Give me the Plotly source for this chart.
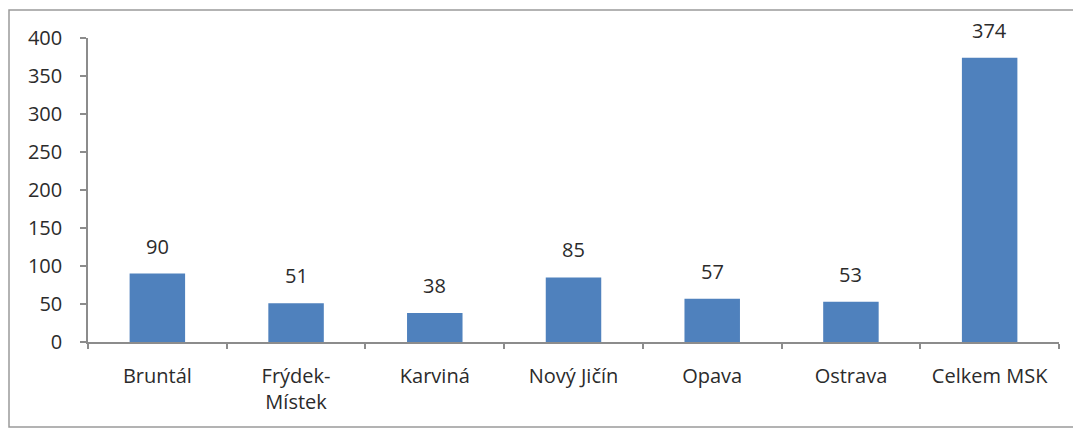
import plotly.graph_objects as go

# Okresy Moravskoslezského kraje a hodnoty
categories = ["Bruntál", "Frýdek-<br>Místek", "Karviná", "Nový Jičín", "Opava", "Ostrava", "Celkem MSK"]
values = [90, 51, 38, 85, 57, 53, 374]
y_ticks = [0, 50, 100, 150, 200, 250, 300, 350, 400]

BAR = "#4F81BD"
AXIS = "#8c8c8c"
TEXT = "#2b2b2b"
FONT = "Open Sans, sans-serif"
FS = 20

W, H = 1073, 429
ML, MR, MT, MB = 88, 14, 38, 87
PW, PH = W - ML - MR, H - MT - MB

fig = go.Figure(go.Bar(x=categories, y=values, marker=dict(color=BAR, line=dict(width=0))))

# value labels above the bars
for c, v in zip(categories, values):
    fig.add_annotation(x=c, y=v, text=str(v), showarrow=False, yanchor="bottom",
                       yshift=12, font=dict(family=FONT, size=FS, color=TEXT))

# outer chart frame
fig.add_shape(type="rect", xref="paper", yref="paper",
              x0=(9 - ML) / PW, x1=(W + 5 - ML) / PW,
              y0=-(MB - 2) / PH, y1=(H - 10 - MB) / PH,
              line=dict(color="#9a9a9a", width=1.5), layer="below")

fig.update_layout(
    width=W, height=H,
    margin=dict(l=ML, r=MR, t=MT, b=MB),
    paper_bgcolor="white", plot_bgcolor="white",
    bargap=0.6, showlegend=False,
    font=dict(family=FONT, size=FS, color=TEXT),
)
fig.update_xaxes(
    showline=True, linecolor=AXIS, linewidth=1.5,
    ticks="outside", tickson="boundaries", ticklen=5, tickcolor=AXIS, tickwidth=1.5,
    ticklabelstandoff=15, showgrid=False,
)
fig.update_yaxes(
    range=[0, 400], tickvals=y_ticks, showline=True, linecolor=AXIS, linewidth=1.5,
    ticks="outside", ticklen=6, tickcolor=AXIS, tickwidth=1.5,
    ticklabelstandoff=14, showgrid=False, zeroline=False,
)

fig.write_html("out.html")
